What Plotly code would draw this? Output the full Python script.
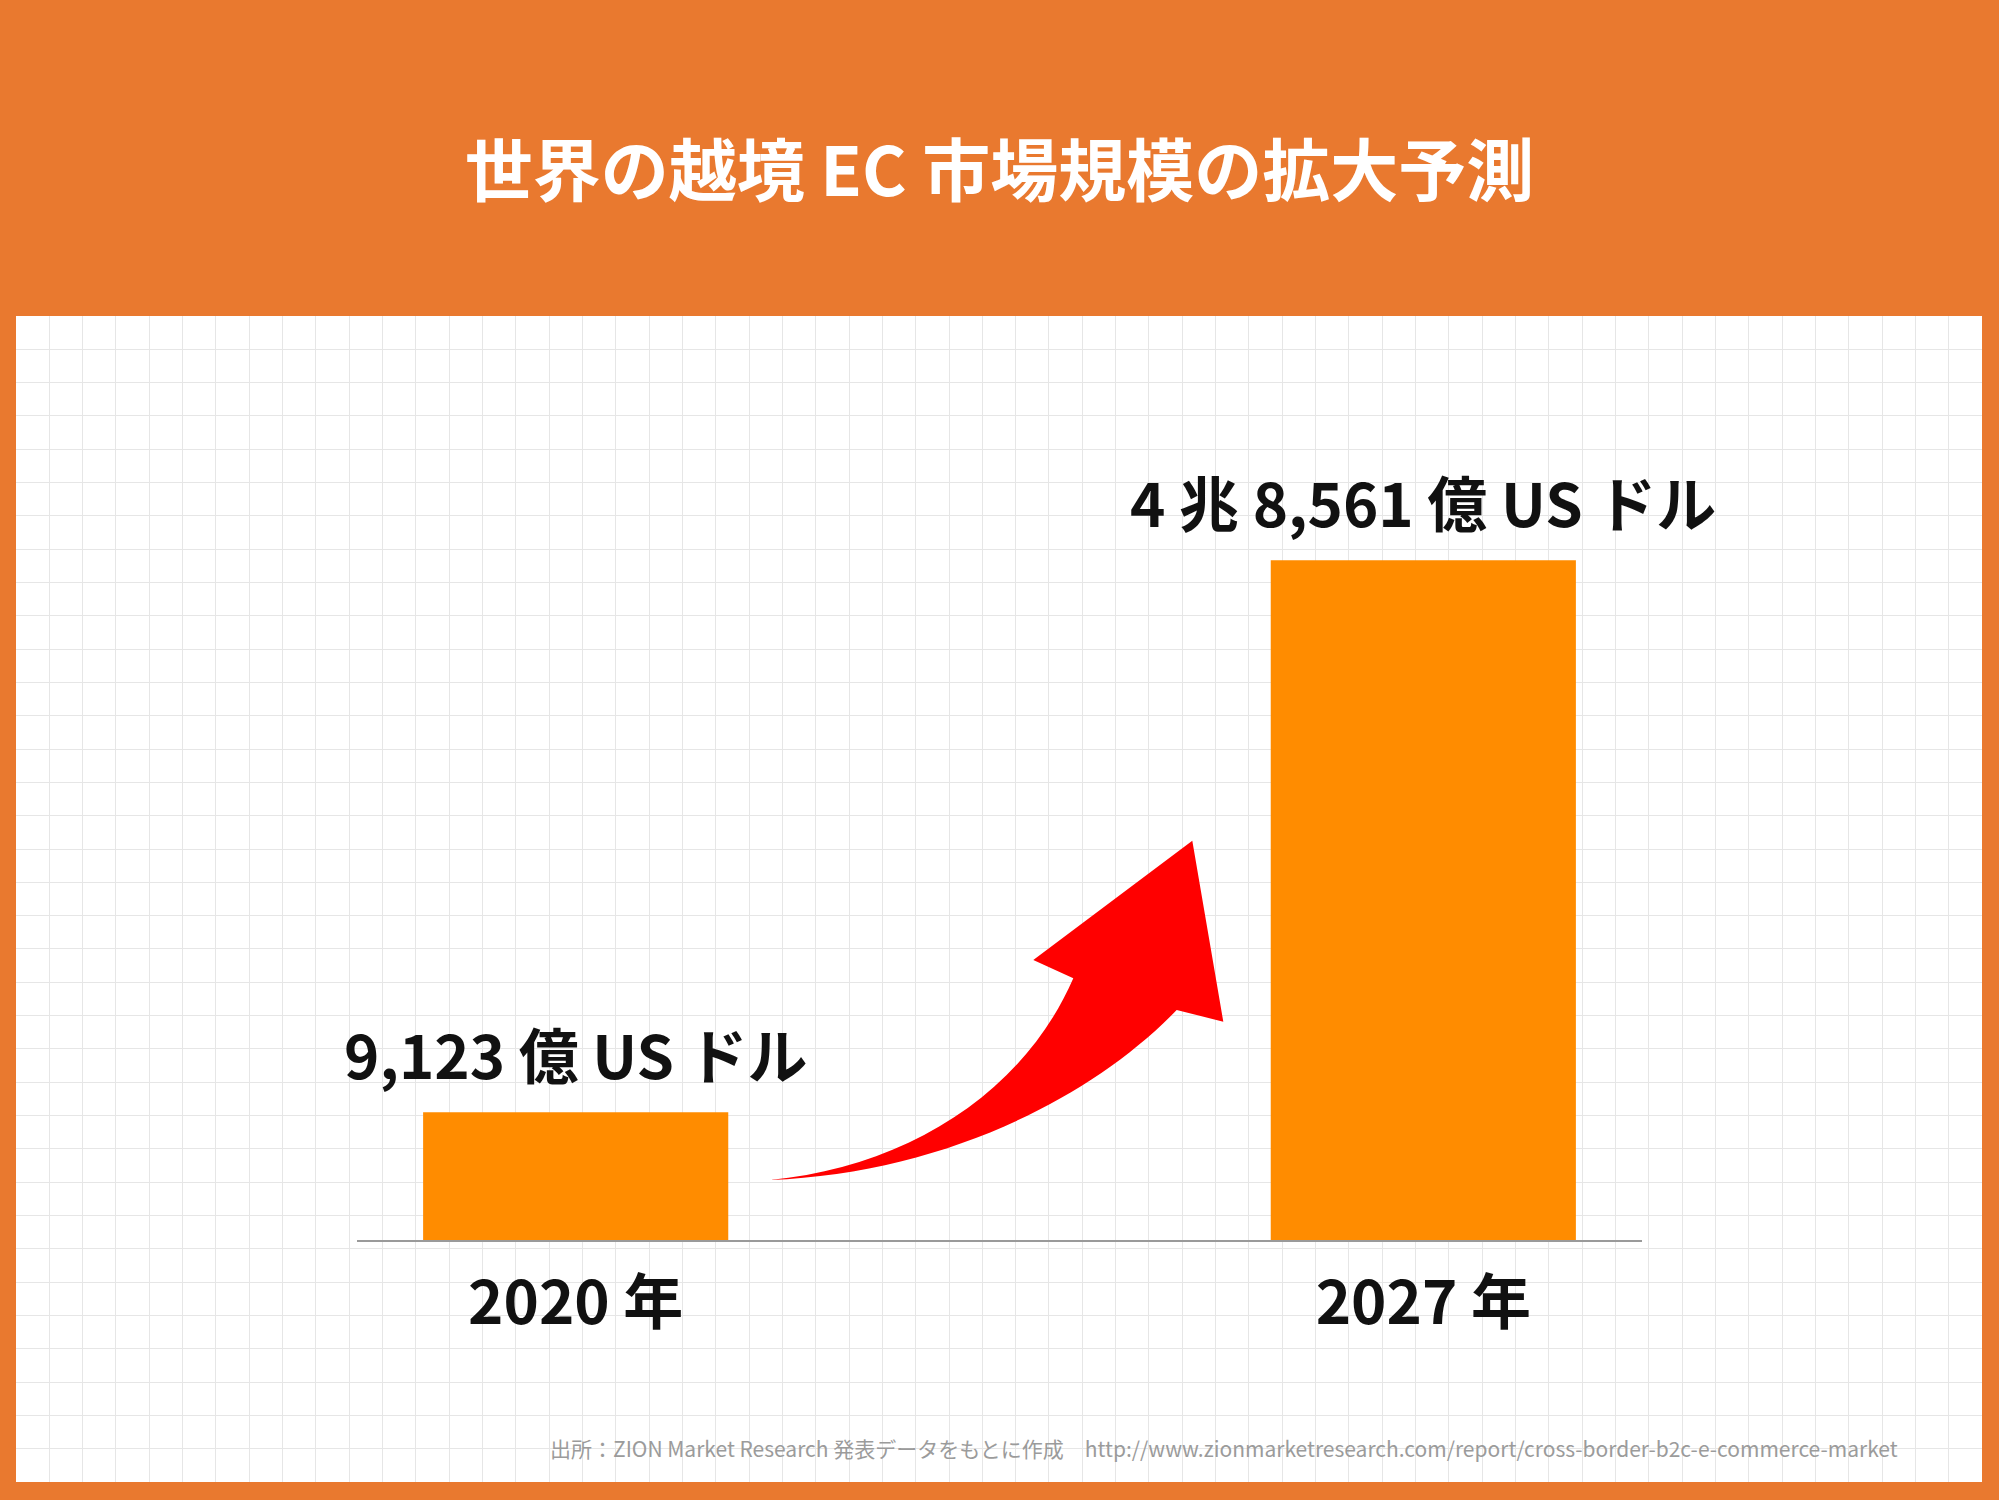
import plotly.graph_objects as go

# ---- data ----
years = ["2020 年", "2027 年"]
values_oku = [9123, 48561]          # 億 US ドル
title_text = "世界の越境 EC 市場規模の拡大予測"
source_text = ("出所：ZION Market Research 発表データをもとに作成　"
               "http://www.zionmarketresearch.com/report/cross-border-b2c-e-commerce-market")

W, H = 1999, 1500
ORANGE = "#E9792F"
BAR = "#FF8C00"
FONT = "Noto Sans CJK JP"


def fmt(v):
    cho, oku = divmod(v, 10000)
    if cho:
        return f"{cho} 兆 {oku:,} 億 US ドル"
    return f"{oku:,} 億 US ドル"


labels = [fmt(v) for v in values_oku]


def px(x, y):
    return f"{x / W:.5f},{1 - y / H:.5f}"


fig = go.Figure()
# empty trace to keep the background grid subplot alive
fig.add_trace(go.Scatter(x=[], y=[], xaxis="x", yaxis="y", showlegend=False, hoverinfo="skip"))
fig.add_trace(go.Bar(
    x=years, y=values_oku, xaxis="x2", yaxis="y2",
    marker=dict(color=BAR, line=dict(width=0)),
    width=0.36, showlegend=False, hoverinfo="skip",
))

for yr, v, lab in zip(years, values_oku, labels):
    fig.add_annotation(x=yr, y=v, xref="x2", yref="y2", text=lab, showarrow=False,
                       yanchor="middle", yshift=60,
                       font=dict(family=FONT, size=60, color="#111111", weight=700))

fig.add_annotation(x=1900 / W, y=1 - 1448 / H, xref="paper", yref="paper",
                   text=source_text, showarrow=False, xanchor="right", yanchor="middle",
                   font=dict(family=FONT, size=21, color="#9b9b9b"))

# white panel
fig.add_shape(type="rect", xref="paper", yref="paper",
              x0=16 / W, x1=1982 / W, y0=1 - 1482 / H, y1=1 - 316 / H,
              fillcolor="white", line=dict(width=0), layer="below")

# red curved arrow (decoration)
arrow_path = (
    f"M {px(770, 1180)} "
    f"C {px(906.7, 1166.7)} {px(1023.3, 1093.3)} {px(1073.3, 978.3)} "
    f"L {px(1033.3, 960)} L {px(1192.3, 840.7)} L {px(1223.3, 1021.7)} L {px(1176.7, 1010)} "
    f"C {px(1090, 1100)} {px(940, 1173.3)} {px(770, 1180)} Z"
)
fig.add_shape(type="path", xref="paper", yref="paper", path=arrow_path,
              fillcolor="#FF0000", line=dict(width=0), layer="above")

fig.update_layout(
    width=W, height=H,
    margin=dict(l=0, r=0, t=0, b=0),
    paper_bgcolor=ORANGE,
    plot_bgcolor="rgba(0,0,0,0)",
    showlegend=False,
    hovermode=False,
    title=dict(text=title_text, x=0.5, xanchor="center", y=1 - 172 / H, yanchor="middle",
               font=dict(family=FONT, size=68, color="white", weight=700)),
    xaxis=dict(domain=[16 / W, 1982 / W], range=[0, 59], dtick=1, showgrid=True,
               gridcolor="#e6e6e6", gridwidth=1, showticklabels=False, zeroline=False,
               ticks="", showline=False, anchor="y", fixedrange=True),
    yaxis=dict(domain=[1 - 1482 / H, 1 - 316 / H], range=[0, 35], dtick=1, showgrid=True,
               gridcolor="#e6e6e6", gridwidth=1, showticklabels=False, zeroline=False,
               ticks="", showline=False, anchor="x", fixedrange=True),
    xaxis2=dict(domain=[357 / W, 1642 / W], range=[-0.258, 1.258], type="category",
                anchor="y2", showgrid=False, zeroline=False, ticks="",
                showline=True, linecolor="#9a9a9a", linewidth=2,
                tickfont=dict(family=FONT, size=60, color="#111111", weight=700),
                ticklabelstandoff=10, fixedrange=True),
    yaxis2=dict(domain=[1 - 1240 / H, 1 - 400 / H], range=[0, 60000], anchor="x2",
                showgrid=False, zeroline=False, showticklabels=False, ticks="",
                showline=False, fixedrange=True),
)

fig.write_html("out.html", config={"displayModeBar": False},
               post_script="document.body.style.margin='0';document.body.style.overflow='hidden';")
